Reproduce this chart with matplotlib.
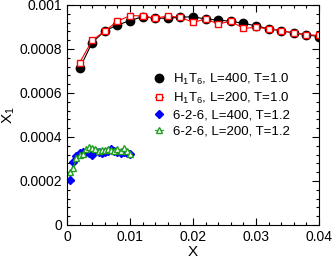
import matplotlib
matplotlib.use("Agg")
import matplotlib.pyplot as plt
from matplotlib.ticker import MultipleLocator, FixedFormatter, FixedLocator

plt.rcParams['font.family'] = ['Liberation Sans', 'DejaVu Sans']
plt.rcParams['mathtext.fontset'] = 'custom'
plt.rcParams['mathtext.rm'] = 'Liberation Sans'
plt.rcParams['mathtext.it'] = 'Liberation Sans'

# H1T6 series
x_h400 = [0.002, 0.004, 0.006, 0.008, 0.010, 0.012, 0.014, 0.016, 0.018, 0.020,
          0.022, 0.024, 0.026, 0.028, 0.030, 0.032, 0.034, 0.036, 0.038, 0.040]
y_h400 = [0.000712, 0.000829, 0.000882, 0.000909, 0.000929, 0.000947, 0.000940, 0.000940,
          0.000944, 0.000947, 0.000936, 0.000932, 0.000926, 0.000917, 0.000905, 0.000892,
          0.000883, 0.000873, 0.000865, 0.000856]
x_h200 = x_h400
y_h200 = [0.000738, 0.000839, 0.000882, 0.000926, 0.000952, 0.000950, 0.000940, 0.000950,
          0.000944, 0.000921, 0.000936, 0.000914, 0.000926, 0.000894, 0.000898, 0.000892,
          0.000883, 0.000873, 0.000865, 0.000862]

# 6-2-6 series
x_626 = [0.0005, 0.0010, 0.0015, 0.0020, 0.0025, 0.0030, 0.0035, 0.0040, 0.0045, 0.0050,
         0.0055, 0.0060, 0.0065, 0.0070, 0.0075, 0.0080, 0.0085, 0.0090, 0.0095, 0.0100]
y_626_400 = [0.000205, 0.000285, 0.000312, 0.000328, 0.000330, 0.000330, 0.000328, 0.000320,
             0.000335, 0.000330, 0.000328, 0.000330, 0.000335, 0.000345, 0.000335, 0.000330,
             0.000328, 0.000330, 0.000328, 0.000325]
y_626_200 = [0.000242, 0.000258, 0.000305, 0.000318, 0.000322, 0.000345, 0.000355, 0.000350,
             0.000345, 0.000335, 0.000340, 0.000340, 0.000345, 0.000340, 0.000335, 0.000345,
             0.000335, 0.000348, 0.000335, 0.000325]

labels = [r'H$_1$T$_6$, L=400, T=1.0', r'H$_1$T$_6$, L=200, T=1.0',
          '6-2-6, L=400, T=1.2', '6-2-6, L=200, T=1.2']
xticks = [0, 0.01, 0.02, 0.03, 0.04]
xticklabels = ['0', '0.01', '0.02', '0.03', '0.04']
yticks = [0, 0.0002, 0.0004, 0.0006, 0.0008, 0.001]
yticklabels = ['0', '0.0002', '0.0004', '0.0006', '0.0008', '0.001']

fig = plt.figure(figsize=(3.34, 2.61), dpi=100)
ax = fig.add_axes([67/334, 36/261, 252/334, 220/261])

ax.plot(x_h400, y_h400, color='black', lw=0.8, marker='o', ms=6, mfc='black', mec='black',
        label=labels[0])
ax.plot(x_h200, y_h200, color='red', lw=0.8, marker='s', ms=5, mfc='white', mec='red',
        mew=1.0, label=labels[1])
ax.plot(x_626, y_626_400, color='blue', lw=0.8, marker='D', ms=4.5, mfc='blue', mec='blue',
        label=labels[2])
ax.plot(x_626, y_626_200, color='#1fa01f', lw=0.8, marker='^', ms=5, mfc='white',
        mec='#1fa01f', mew=1.0, label=labels[3])

ax.set_xlim(0, 0.04)
ax.set_ylim(0, 0.001)
ax.xaxis.set_major_locator(FixedLocator(xticks))
ax.xaxis.set_major_formatter(FixedFormatter(xticklabels))
ax.yaxis.set_major_locator(FixedLocator(yticks))
ax.yaxis.set_major_formatter(FixedFormatter(yticklabels))
ax.xaxis.set_minor_locator(MultipleLocator(0.002))
ax.yaxis.set_minor_locator(MultipleLocator(0.00004))
ax.tick_params(which='both', direction='in', top=True, right=True, labelsize=10, width=0.8)
ax.tick_params(which='major', length=5)
ax.tick_params(which='minor', length=2.5)
ax.set_xlabel('X', fontsize=11, labelpad=1)
ax.set_ylabel(r'X$_1$', fontsize=11, labelpad=2)

ax.legend(loc='upper left', bbox_to_anchor=(0.33, 0.72), frameon=False, fontsize=9.5,
          handlelength=0.6, handletextpad=0.7, labelspacing=0.28, borderaxespad=0,
          numpoints=1)

fig.savefig('out.png', dpi=100)
